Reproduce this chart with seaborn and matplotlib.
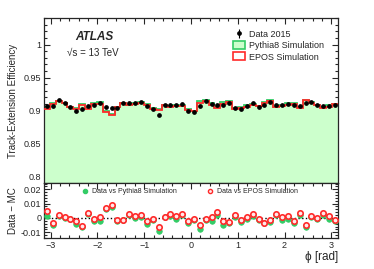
import numpy as np
import pandas as pd
import seaborn as sns
import matplotlib.pyplot as plt
from matplotlib.patches import Patch
from matplotlib.lines import Line2D
from matplotlib.ticker import MultipleLocator, FormatStrFormatter

# 50 bins in phi, from -pi to pi
n_bins = 50

data_2015 = [
    0.9065, 0.9063, 0.9155, 0.9115, 0.9045, 0.8995, 0.9025, 0.9060, 0.9088, 0.9105,
    0.9050, 0.9030, 0.9030, 0.9105, 0.9105, 0.9105, 0.9130, 0.9060, 0.9015, 0.8935,
    0.9082, 0.9082, 0.9075, 0.9100, 0.8985, 0.8980, 0.9060, 0.9140, 0.9090, 0.9075,
    0.9080, 0.9105, 0.9040, 0.9015, 0.9065, 0.9115, 0.9055, 0.9085, 0.9130, 0.9075,
    0.9075, 0.9100, 0.9075, 0.9065, 0.9105, 0.9130, 0.9075, 0.9065, 0.9065, 0.9085,
]
pythia8 = [
    0.9051, 0.9113, 0.9143, 0.9113, 0.9055, 0.9035, 0.9090, 0.9030, 0.9107, 0.9124,
    0.8990, 0.8951, 0.9049, 0.9119, 0.9085, 0.9107, 0.9125, 0.9102, 0.9031, 0.9025,
    0.9077, 0.9070, 0.9085, 0.9081, 0.9018, 0.8996, 0.9139, 0.9154, 0.9109, 0.9056,
    0.9130, 0.9142, 0.9031, 0.9045, 0.9075, 0.9101, 0.9071, 0.9122, 0.9158, 0.9056,
    0.9087, 0.9110, 0.9112, 0.9046, 0.9165, 0.9125, 0.9085, 0.9046, 0.9075, 0.9104,
]
epos = [
    0.9018, 0.9100, 0.9136, 0.9108, 0.9050, 0.9018, 0.9081, 0.9023, 0.9098, 0.9100,
    0.8983, 0.8937, 0.9044, 0.9119, 0.9079, 0.9093, 0.9111, 0.9083, 0.9020, 0.9000,
    0.9077, 0.9056, 0.9063, 0.9070, 0.9008, 0.8990, 0.9110, 0.9150, 0.9085, 0.9033,
    0.9099, 0.9133, 0.9021, 0.9029, 0.9056, 0.9089, 0.9065, 0.9118, 0.9146, 0.9045,
    0.9066, 0.9086, 0.9094, 0.9030, 0.9152, 0.9118, 0.9075, 0.9032, 0.9051, 0.9097,
]

GREEN_FILL = "#ccffcc"
GREEN = "#33cc66"
RED = "#ff2a2a"

sns.set_theme(style="ticks")
plt.rcParams["font.family"] = ["Liberation Sans", "DejaVu Sans"]
plt.rcParams["axes.linewidth"] = 0.9

edges = np.linspace(-np.pi, np.pi, n_bins + 1)
centers = 0.5 * (edges[:-1] + edges[1:])
df = pd.DataFrame({"phi": centers, "data": data_2015, "pythia": pythia8, "epos": epos})
df["d_pythia"] = df["data"] - df["pythia"]
df["d_epos"] = df["data"] - df["epos"]

fig = plt.figure(figsize=(3.74, 2.69), dpi=100)
ax = fig.add_axes([0.1176, 0.3208, 0.786, 0.611])
rax = fig.add_axes([0.1176, 0.1141, 0.786, 0.2067], sharex=ax)

# top panel: efficiency
ax.stairs(df["pythia"], edges, fill=True, baseline=0, color=GREEN_FILL, zorder=1)
ax.stairs(df["pythia"], edges, baseline=None, color=GREEN, lw=1.3, zorder=2)
ax.stairs(df["epos"], edges, baseline=None, color=RED, lw=1.3, zorder=3)
data_h = ax.errorbar(df["phi"], df["data"], yerr=0.0012, fmt="o", ms=2.4,
                     color="black", elinewidth=0.8, capsize=0, zorder=4)

ax.set_xlim(-np.pi, np.pi)
ax.set_ylim(0.79, 1.04)
ax.yaxis.set_major_locator(MultipleLocator(0.05))
ax.yaxis.set_minor_locator(MultipleLocator(0.01))
ax.yaxis.set_major_formatter(FormatStrFormatter("%g"))
ax.set_ylabel("Track-Extension Efficiency", fontsize=7, labelpad=4)
plt.setp(ax.get_xticklabels(), visible=False)

ax.text(0.105, 0.87, "ATLAS", transform=ax.transAxes, fontsize=8.5,
        fontweight="bold", fontstyle="italic")
ax.text(0.08, 0.77, "\u221as = 13 TeV", transform=ax.transAxes, fontsize=7)

handles = [
    data_h,
    Patch(facecolor=GREEN_FILL, edgecolor=GREEN, lw=1.2),
    Patch(facecolor="white", edgecolor=RED, lw=1.2),
]
ax.legend(handles, ["Data 2015", "Pythia8 Simulation", "EPOS Simulation"],
          loc="upper left", bbox_to_anchor=(0.62, 0.97), fontsize=6.5,
          frameon=False, handlelength=1.4, handleheight=1.0,
          handletextpad=0.4, labelspacing=0.25, borderpad=0.2)

# bottom panel: data - MC
rax.axhline(0, color="black", ls=":", lw=1.0, zorder=1)
rax.errorbar(df["phi"], df["d_pythia"], yerr=0.0008, fmt="none", ecolor=GREEN,
             elinewidth=0.9, zorder=2)
sns.scatterplot(data=df, x="phi", y="d_pythia", ax=rax, marker="o", s=16,
                color=GREEN, edgecolor=GREEN, linewidth=0.5, zorder=3)
rax.errorbar(df["phi"], df["d_epos"], yerr=0.0008, fmt="none", ecolor=RED,
             elinewidth=0.9, zorder=4)
sns.scatterplot(data=df, x="phi", y="d_epos", ax=rax, marker="o", s=15,
                color="#ffe8e8", edgecolor=RED, linewidth=1.2, zorder=5)

rax.set_ylim(-0.0142, 0.0246)
rax.yaxis.set_major_locator(MultipleLocator(0.01))
rax.yaxis.set_minor_locator(MultipleLocator(0.002))
rax.yaxis.set_major_formatter(FormatStrFormatter("%g"))
rax.xaxis.set_major_locator(MultipleLocator(1))
rax.xaxis.set_minor_locator(MultipleLocator(0.2))
rax.set_ylabel("Data \u2212 MC", fontsize=7, labelpad=2)
rax.set_xlabel("\u03d5 [rad]", fontsize=8.5, loc="right", labelpad=1)

leg1 = rax.legend([Line2D([], [], marker="o", ms=3, color=GREEN, lw=0)],
                  ["Data vs Pythia8 Simulation"], loc="upper left",
                  bbox_to_anchor=(0.11, 1.0), fontsize=5, frameon=False,
                  handlelength=1.0, handletextpad=0.4, borderpad=0.3)
rax.add_artist(leg1)
rax.legend([Line2D([], [], marker="o", ms=3, color=RED, mfc="#ffe8e8", lw=0)],
           ["Data vs EPOS Simulation"], loc="upper left",
           bbox_to_anchor=(0.535, 1.0), fontsize=5, frameon=False,
           handlelength=1.0, handletextpad=0.4, borderpad=0.3)

for a in (ax, rax):
    a.tick_params(which="both", direction="in", top=True, right=True,
                  labelsize=6.5, width=0.8, pad=2)
    a.tick_params(which="major", length=4.5)
    a.tick_params(which="minor", length=2.3)

fig.align_ylabels([ax, rax])
fig.savefig("out.png", dpi=100)
